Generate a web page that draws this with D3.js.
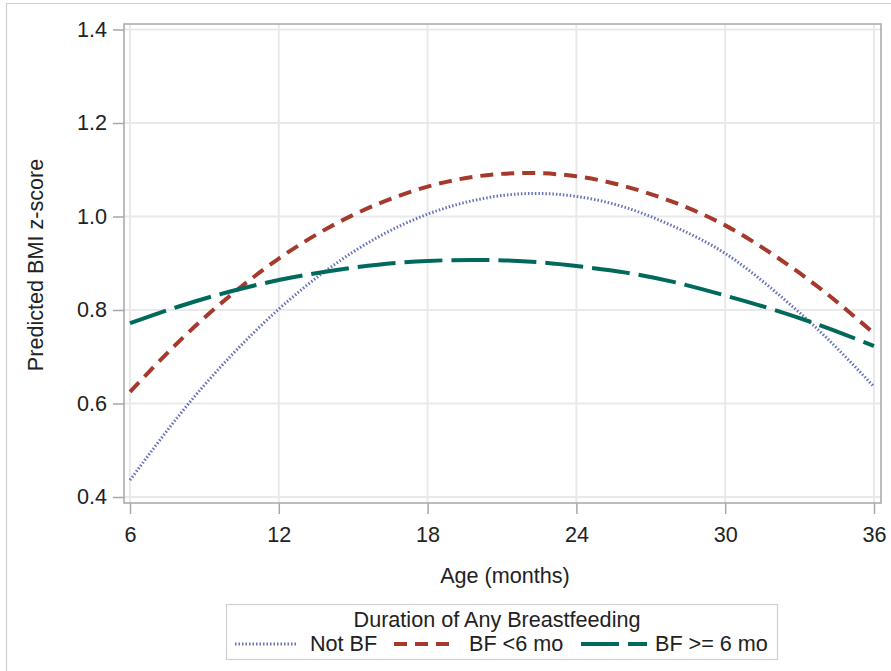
<!DOCTYPE html>
<html>
<head>
<meta charset="utf-8">
<script src="https://cdn.jsdelivr.net/npm/d3@7"></script>
<style>
  html, body { margin: 0; padding: 0; background: #fff; }
  svg { display: block; font-family: "Liberation Sans", Arial, sans-serif; }
</style>
</head>
<body>
<svg id="chart" width="891" height="671"></svg>
<script>
// ---- data ----
const ages = [6, 8, 10, 12, 14, 16, 18, 20, 22, 24, 26, 28, 30, 32, 34, 36];
const notBF = [0.436, 0.576, 0.698, 0.802, 0.888, 0.956, 1.005, 1.036, 1.049, 1.043, 1.019, 0.977, 0.921, 0.840, 0.745, 0.636];
const bfLt6 = [0.625, 0.734, 0.829, 0.910, 0.976, 1.027, 1.064, 1.086, 1.093, 1.086, 1.064, 1.029, 0.981, 0.916, 0.839, 0.750];
const bfGe6 = [0.772, 0.808, 0.839, 0.864, 0.883, 0.897, 0.905, 0.907, 0.904, 0.894, 0.880, 0.859, 0.831, 0.800, 0.764, 0.723];
const seriesNames = ["Not BF", "BF <6 mo", "BF >= 6 mo"];
const xTicks = [6, 12, 18, 24, 30, 36];
const yTicks = [0.4, 0.6, 0.8, 1.0, 1.2, 1.4];
const legendTitle = "Duration of Any Breastfeeding";
const xLabel = "Age (months)";
const yLabel = "Predicted BMI z-score";

const styles = [
  { color: "#6672b8", width: 3, dash: "1.5,2" },
  { color: "#a5392c", width: 4, dash: "13,8" },
  { color: "#00695c", width: 4, dash: "38,9" }
];
const seriesVals = [notBF, bfLt6, bfGe6];
const FS = "21.6px";

const svg = d3.select("#chart");

// outer frame (partial)
svg.append("path").attr("d", "M6.5,671 V3.5 H891")
  .attr("fill", "none").attr("stroke", "#cfcfcf").attr("stroke-width", 1.2);

const frame = { l: 124, r: 881, t: 24, b: 503 };
const x = d3.scaleLinear().domain([6, 36]).range([130, 874]);
const y = d3.scaleLinear().domain([0.4, 1.4]).range([497, 29.5]);

// gridlines
const grid = svg.append("g");
grid.selectAll("line.v").data(xTicks).join("line")
  .attr("x1", d => x(d)).attr("x2", d => x(d))
  .attr("y1", frame.t).attr("y2", frame.b)
  .attr("stroke", "#e9e9ea").attr("stroke-width", 2);
grid.selectAll("line.h").data(yTicks).join("line")
  .attr("x1", frame.l).attr("x2", frame.r)
  .attr("y1", d => y(d)).attr("y2", d => y(d))
  .attr("stroke", "#e9e9ea").attr("stroke-width", 2);

// axes
const yAxis = d3.axisLeft(y).tickValues(yTicks).tickFormat(d3.format(".1f"))
  .tickSize(11).tickPadding(6);
const gy = svg.append("g").attr("transform", `translate(${frame.l},0)`).call(yAxis);
const xAxis = d3.axisBottom(x).tickValues(xTicks).tickFormat(d3.format("d"))
  .tickSize(11).tickPadding(13);
const gx = svg.append("g").attr("transform", `translate(0,${frame.b})`).call(xAxis);
[gx, gy].forEach(g => {
  g.select(".domain").remove();
  g.selectAll(".tick line").attr("stroke", "#a3a8ad").attr("stroke-width", 1.5);
  g.selectAll(".tick text").attr("fill", "#222").style("font-size", FS)
    .style("font-family", '"Liberation Sans", Arial, sans-serif');
});

// plot frame
svg.append("rect").attr("x", frame.l).attr("y", frame.t)
  .attr("width", frame.r - frame.l).attr("height", frame.b - frame.t)
  .attr("fill", "none").attr("stroke", "#a3a8ad").attr("stroke-width", 1.5);

// curves
const line = d3.line().x(d => x(d[0])).y(d => y(d[1])).curve(d3.curveNatural);
seriesVals.forEach((vals, i) => {
  svg.append("path")
    .datum(ages.map((a, j) => [a, vals[j]]))
    .attr("d", line)
    .attr("fill", "none")
    .attr("stroke", styles[i].color)
    .attr("stroke-width", styles[i].width)
    .attr("stroke-dasharray", styles[i].dash);
});

// axis labels
svg.append("text").attr("x", 505).attr("y", 583).attr("text-anchor", "middle")
  .attr("fill", "#222").style("font-size", FS).text(xLabel);
svg.append("text").attr("transform", "translate(43,265) rotate(-90)")
  .attr("text-anchor", "middle").attr("fill", "#222").style("font-size", FS).text(yLabel);

// legend
const lg = svg.append("g");
lg.append("rect").attr("x", 226.5).attr("y", 604.5).attr("width", 551).attr("height", 55)
  .attr("fill", "#fff").attr("stroke", "#cfcfcf").attr("stroke-width", 1.2);
lg.append("text").attr("x", 497).attr("y", 627).attr("text-anchor", "middle")
  .attr("fill", "#222").style("font-size", FS).text(legendTitle);
const items = [
  { x0: 235, x1: 298, tx: 310 },
  { x0: 394, x1: 452, tx: 469 },
  { x0: 581, x1: 647, tx: 655 }
];
items.forEach((it, i) => {
  lg.append("line").attr("x1", it.x0).attr("x2", it.x1).attr("y1", 644).attr("y2", 644)
    .attr("stroke", styles[i].color).attr("stroke-width", styles[i].width)
    .attr("stroke-dasharray", styles[i].dash);
  lg.append("text").attr("x", it.tx).attr("y", 651).attr("fill", "#222")
    .style("font-size", FS).text(seriesNames[i]);
});
</script>
</body>
</html>
